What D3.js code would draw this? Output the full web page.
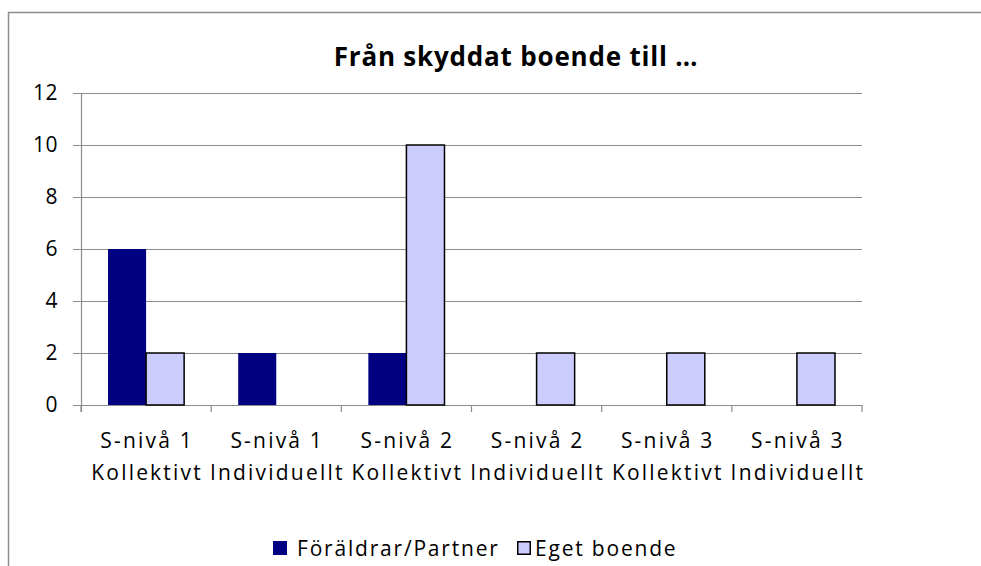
<!DOCTYPE html>
<html>
<head>
<meta charset="utf-8">
<script src="https://cdn.jsdelivr.net/npm/d3@7"></script>
<style>
  body { margin: 0; background: #fff; }
  text { font-family: "Open Sans", "DejaVu Sans", sans-serif; fill: #000; }
</style>
</head>
<body>
<script>
// chart data
var categories = [
  ['S-nivå 1', 'Kollektivt'],
  ['S-nivå 1', 'Individuellt'],
  ['S-nivå 2', 'Kollektivt'],
  ['S-nivå 2', 'Individuellt'],
  ['S-nivå 3', 'Kollektivt'],
  ['S-nivå 3', 'Individuellt']
];
var seriesNames = ['Föräldrar/Partner', 'Eget boende'];
var foraldrar = [6, 2, 2, 0, 0, 0];
var eget = [2, 0, 10, 2, 2, 2];
var yTicks = [0, 2, 4, 6, 8, 10, 12];

var width = 981;
var height = 566;
var colors = ['#000080', '#ccccff'];

var svg = d3.select('body')
  .append('svg')
    .attr('width', width)
    .attr('height', height);

// outer chart border
svg.append('rect')
  .attr('x', 8.5).attr('y', 12.5)
  .attr('width', 1100).attr('height', 700)
  .attr('fill', 'none')
  .attr('stroke', '#8c8c8c')
  .attr('stroke-width', 1.5);

svg.append('text')
  .attr('x', 516).attr('y', 66)
  .attr('text-anchor', 'middle')
  .style('font-size', '26px')
  .style('font-weight', 'bold')
  .style('letter-spacing', '0.8px')
  .text('Från skyddat boende till …');

var keys = categories.map(function(d, i) { return i; });

var x0 = d3.scaleBand()
    .domain(keys)
    .range([81, 862])
    .padding(0);

var x1 = d3.scaleBand()
    .domain([0, 1])
    .range([0, x0.bandwidth()])
    .paddingInner(0)
    .paddingOuter(0.71);

var y = d3.scaleLinear()
    .domain([0, 12])
    .range([405, 93]);

// gridlines + y axis
var yAxis = d3.axisLeft(y)
  .tickValues(yTicks)
  .tickSize(-(862 - 73))
  .tickPadding(15)
  .tickFormat(d3.format('d'));

var gy = svg.append('g')
  .attr('transform', 'translate(73,0)')
  .call(yAxis);
gy.select('.domain').remove();
gy.selectAll('.tick line')
  .attr('stroke', '#8c8c8c')
  .attr('stroke-width', 1.2);
gy.selectAll('.tick text')
  .style('font-size', '21px')
  .style('letter-spacing', '0.5px')
  .style('font-family', '"Open Sans", sans-serif');

// vertical axis line
svg.append('line')
  .attr('x1', 81.5).attr('x2', 81.5)
  .attr('y1', 93).attr('y2', 412)
  .attr('stroke', '#8c8c8c')
  .attr('stroke-width', 1.2);

// category ticks below the axis
svg.selectAll('.cat-tick')
  .data(d3.range(categories.length + 1))
  .enter().append('line')
    .attr('x1', function(i) { return 81 + i * x0.step(); })
    .attr('x2', function(i) { return 81 + i * x0.step(); })
    .attr('y1', 405).attr('y2', 412)
    .attr('stroke', '#8c8c8c')
    .attr('stroke-width', 1.2);

// bars
var series = [foraldrar, eget];
series.forEach(function(values, s) {
  svg.selectAll('.bar-' + s)
    .data(values.map(function(v, i) { return { i: i, v: v }; })
      .filter(function(d) { return d.v > 0; }))
    .enter().append('rect')
      .attr('x', function(d) { return x0(d.i) + x1(s); })
      .attr('y', function(d) { return y(d.v); })
      .attr('width', x1.bandwidth())
      .attr('height', function(d) { return y(0) - y(d.v); })
      .attr('fill', colors[s])
      .attr('stroke', s === 1 ? '#000' : 'none')
      .attr('stroke-width', 1.5);
});

// category labels
var lab = svg.selectAll('.cat-label')
  .data(categories)
  .enter().append('text')
    .attr('text-anchor', 'middle')
    .style('font-size', '21px')
    .style('letter-spacing', '2.2px');
lab.append('tspan')
  .attr('x', function(d, i) { return x0(i) + x0.bandwidth() / 2 + 1; })
  .attr('y', 448)
  .text(function(d) { return d[0]; });
lab.append('tspan')
  .attr('x', function(d, i) { return x0(i) + x0.bandwidth() / 2 + 1; })
  .attr('y', 480)
  .text(function(d) { return d[1]; });

// legend
var legend = svg.append('g');
var lx = [273, 517];
var tx = [297, 535];
seriesNames.forEach(function(name, s) {
  legend.append('rect')
    .attr('x', lx[s] + (s === 1 ? 0.75 : 0))
    .attr('y', 541 + (s === 1 ? 0.75 : 0))
    .attr('width', s === 1 ? 12.5 : 14)
    .attr('height', s === 1 ? 12.5 : 14)
    .attr('fill', colors[s])
    .attr('stroke', s === 1 ? '#000' : 'none')
    .attr('stroke-width', 1.5);
  legend.append('text')
    .attr('x', tx[s])
    .attr('y', 556)
    .style('font-size', '21px')
    .style('letter-spacing', '1.8px')
    .text(name);
});
</script>
</body>
</html>
